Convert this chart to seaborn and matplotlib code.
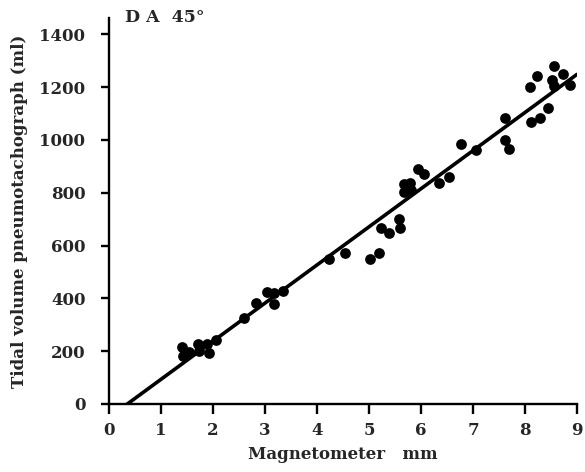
import numpy as np
import pandas as pd
import matplotlib
matplotlib.use("Agg")
import matplotlib.pyplot as plt
import seaborn as sns

# Data (magnetometer mm vs tidal volume ml)
magnetometer_mm = [1.40, 1.43, 1.54, 1.71, 1.74, 1.89, 1.92, 2.05,
                   2.60, 2.83, 3.03, 3.17, 3.17, 3.34,
                   4.23, 4.53, 5.01, 5.20, 5.23, 5.39, 5.57, 5.60,
                   5.67, 5.79, 5.67, 5.81, 5.95, 6.06, 6.35, 6.53,
                   6.76, 7.05, 7.62, 7.62, 7.70,
                   8.10, 8.24, 8.56, 8.51, 8.56, 8.73, 8.87, 8.45, 8.29, 8.11]
tidal_volume_ml = [217, 183, 198, 226, 202, 226, 192, 242,
                   327, 381, 425, 422, 379, 429,
                   548, 573, 548, 571, 666, 647, 701, 666,
                   833, 837, 803, 811, 889, 871, 836, 861,
                   985, 962, 1082, 1000, 966,
                   1202, 1242, 1280, 1227, 1205, 1250, 1208, 1120, 1082, 1069]
x_ticks = [0, 1, 2, 3, 4, 5, 6, 7, 8, 9]
y_ticks = [0, 200, 400, 600, 800, 1000, 1200, 1400]

df = pd.DataFrame({"mag": magnetometer_mm, "vol": tidal_volume_ml})

sns.set_style("ticks")
plt.rcParams["font.family"] = ["DejaVu Serif"]
plt.rcParams["font.weight"] = "bold"

fig = plt.figure(figsize=(5.85, 4.72), dpi=100)
ax = fig.add_axes([109 / 585, (472 - 404) / 472, (577 - 109) / 585, (404 - 18) / 472])
ax.set_xlim(0, 9)
ax.set_ylim(0, 1462)

sns.regplot(data=df, x="mag", y="vol", ax=ax, ci=None, truncate=False,
            scatter_kws=dict(s=60, color="black", linewidths=0, alpha=1),
            line_kws=dict(color="black", lw=2.6))

ax.set_xlim(0, 9)
ax.set_ylim(0, 1462)
ax.set_xticks(x_ticks)
ax.set_yticks(y_ticks)
ax.set_xticklabels([str(t) for t in x_ticks], fontsize=12, fontweight="bold")
ax.set_yticklabels([str(t) for t in y_ticks], fontsize=12, fontweight="bold")
ax.tick_params(axis="x", length=7, width=1.7, pad=6, color="black")
ax.tick_params(axis="y", length=6, width=1.7, pad=11, color="black")
for s in ["top", "right"]:
    ax.spines[s].set_visible(False)
for s in ["left", "bottom"]:
    ax.spines[s].set_linewidth(1.7)
    ax.spines[s].set_color("black")

ax.set_xlabel("Magnetometer   mm", fontsize=12, fontweight="bold", labelpad=5)
ax.set_ylabel("Tidal volume pneumotachograph (ml)", fontsize=12, fontweight="bold", labelpad=8)
ax.text(0.035, 1.0, "D A  45°", transform=ax.transAxes, fontsize=12.5,
        fontweight="bold", va="center", ha="left")

fig.savefig("out.png", dpi=100)
